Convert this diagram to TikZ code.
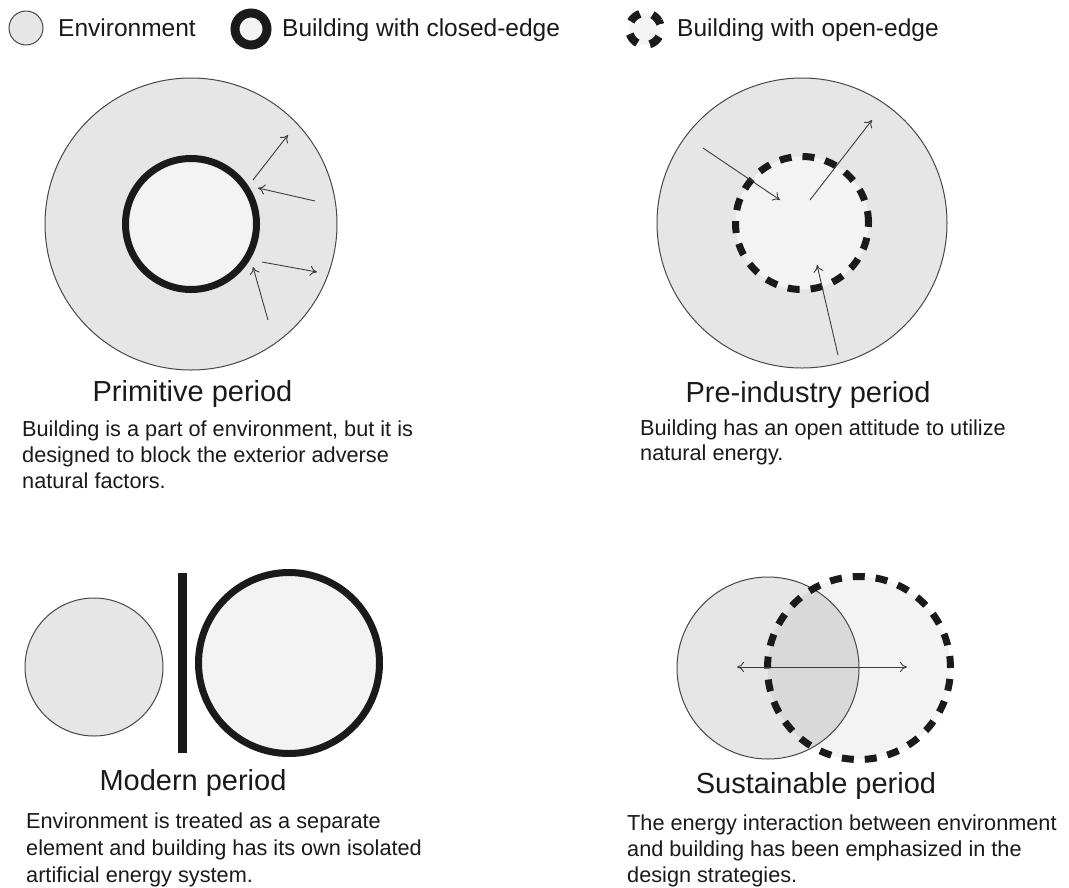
\documentclass[tikz,border=0pt]{standalone}
\usepackage{fontspec}
\setmainfont{Liberation Sans}
\usetikzlibrary{arrows.meta}
\definecolor{envfill}{HTML}{E6E6E6}
\definecolor{bldfill}{HTML}{F3F3F3}
\definecolor{overlapfill}{HTML}{D9D9D9}
\definecolor{inkc}{HTML}{1A1A1A}
\tikzset{
  env/.style={circle,draw=inkc!80,line width=1pt,fill=envfill,inner sep=0pt},
  closedbld/.style={circle,draw=inkc,line width=7pt,fill=bldfill,inner sep=0pt},
  openbld/.style={circle,draw=inkc,line width=7pt,dash pattern=on 12pt off 11pt,fill=bldfill,inner sep=0pt},
  flow/.style={draw=inkc!85,line width=0.9pt,-{To[length=7pt,width=10pt]}},
  flowboth/.style={draw=inkc!85,line width=0.9pt,{To[length=7pt,width=10pt]}-{To[length=7pt,width=10pt]}},
  legendtext/.style={anchor=base west,inner sep=0pt,font=\fontsize{24.5}{28}\selectfont,text=inkc},
  titletext/.style={anchor=base,inner sep=0pt,font=\fontsize{29}{32}\selectfont,text=inkc},
  desctext/.style={anchor=base west,inner sep=0pt,font=\fontsize{21.7}{26}\selectfont,text=inkc,align=left},
}
\begin{document}
\begin{tikzpicture}[x=1pt,y=-1pt]
\useasboundingbox (0,0) rectangle (1069,887);
\fill[white] (0,0) rectangle (1069,887);
% ---------- legend ----------
\node[env,minimum size=34pt] (lenv) at (26,28) {};
\node[legendtext] (lenvt) at (58,36) {Environment};
\node[circle,draw=inkc,line width=9pt,fill=bldfill,inner sep=0pt,minimum size=32pt] (lclosed) at (251,29) {};
\node[legendtext] (lclosedt) at (282,36) {Building with closed-edge};
\node[circle,draw=inkc,line width=8pt,dash pattern=on 12pt off 13pt,dash phase=3pt,fill=bldfill,inner sep=0pt,minimum size=32pt,rotate=30] (lopen) at (645,29) {};
\node[legendtext] (lopent) at (677,36) {Building with open-edge};
% ---------- primitive ----------
\node[env,minimum size=292pt] (penv) at (191,224) {};
\node[closedbld,minimum size=131pt] (pbld) at (191,224) {};
\coordinate (pa1s) at (253,180); \coordinate (pa1e) at (288,135);
\coordinate (pa2s) at (315,201); \coordinate (pa2e) at (258,188);
\coordinate (pa3s) at (262,262); \coordinate (pa3e) at (317,272);
\coordinate (pa4s) at (268,320); \coordinate (pa4e) at (253,267);
\draw[flow] (pa1s) -- (pa1e);
\draw[flow] (pa2s) -- (pa2e);
\draw[flow] (pa3s) -- (pa3e);
\draw[flow] (pa4s) -- (pa4e);
\node[titletext] (ptitle) at (192.5,401) {Primitive period};
\node[desctext] (pd1) at (22,436) {Building is a part of environment, but it is};
\node[desctext] (pd2) at (22,462) {designed to block the exterior adverse};
\node[desctext] (pd3) at (22,488) {natural factors.};
% ---------- pre-industry ----------
\node[env,minimum size=290pt] (ienv) at (802,223) {};
\node[openbld,minimum size=133pt] (ibld) at (802,223) {};
\coordinate (ia1s) at (703,148); \coordinate (ia1e) at (780,200);
\coordinate (ia2s) at (810,200); \coordinate (ia2e) at (872,120);
\coordinate (ia3s) at (838,355); \coordinate (ia3e) at (817,265);
\draw[flow] (ia1s) -- (ia1e);
\draw[flow] (ia2s) -- (ia2e);
\draw[flow] (ia3s) -- (ia3e);
\node[titletext] (ititle) at (808,402) {Pre-industry period};
\node[desctext] (id1) at (640,435) {Building has an open attitude to utilize};
\node[desctext] (id2) at (640,460) {natural energy.};
% ---------- modern ----------
\node[env,minimum size=138pt] (menv) at (94,667) {};
\node[fill=inkc,minimum width=9pt,minimum height=180pt,inner sep=0pt] (mwall) at (182.5,663) {};
\node[closedbld,minimum size=181pt] (mbld) at (289,663) {};
\node[titletext] (mtitle) at (193,790) {Modern period};
\node[desctext] (md1) at (26,828) {Environment is treated as a separate};
\node[desctext] (md2) at (26,855) {element and building has its own isolated};
\node[desctext] (md3) at (26,882) {artificial energy system.};
% ---------- sustainable ----------
\fill[envfill] (768,668) circle (91);
\fill[bldfill] (859,668) circle (91.5);
\begin{scope}
  \clip (768,668) circle (91);
  \fill[overlapfill] (859,668) circle (91.5);
\end{scope}
\node[circle,draw=inkc!80,line width=1pt,inner sep=0pt,minimum size=182pt] (senv) at (768,668) {};
\node[circle,draw=inkc,line width=7pt,dash pattern=on 12pt off 11pt,inner sep=0pt,minimum size=183pt] (sbld) at (859,668) {};
\coordinate (sas) at (737,667); \coordinate (sae) at (907,667);
\draw[flowboth] (sas) -- (sae);
\node[titletext] (stitle) at (816,793) {Sustainable period};
\node[desctext] (sd1) at (627,830) {The energy interaction between environment};
\node[desctext] (sd2) at (627,856) {and building has been emphasized in the};
\node[desctext] (sd3) at (627,882) {design strategies.};
\end{tikzpicture}
\end{document}
